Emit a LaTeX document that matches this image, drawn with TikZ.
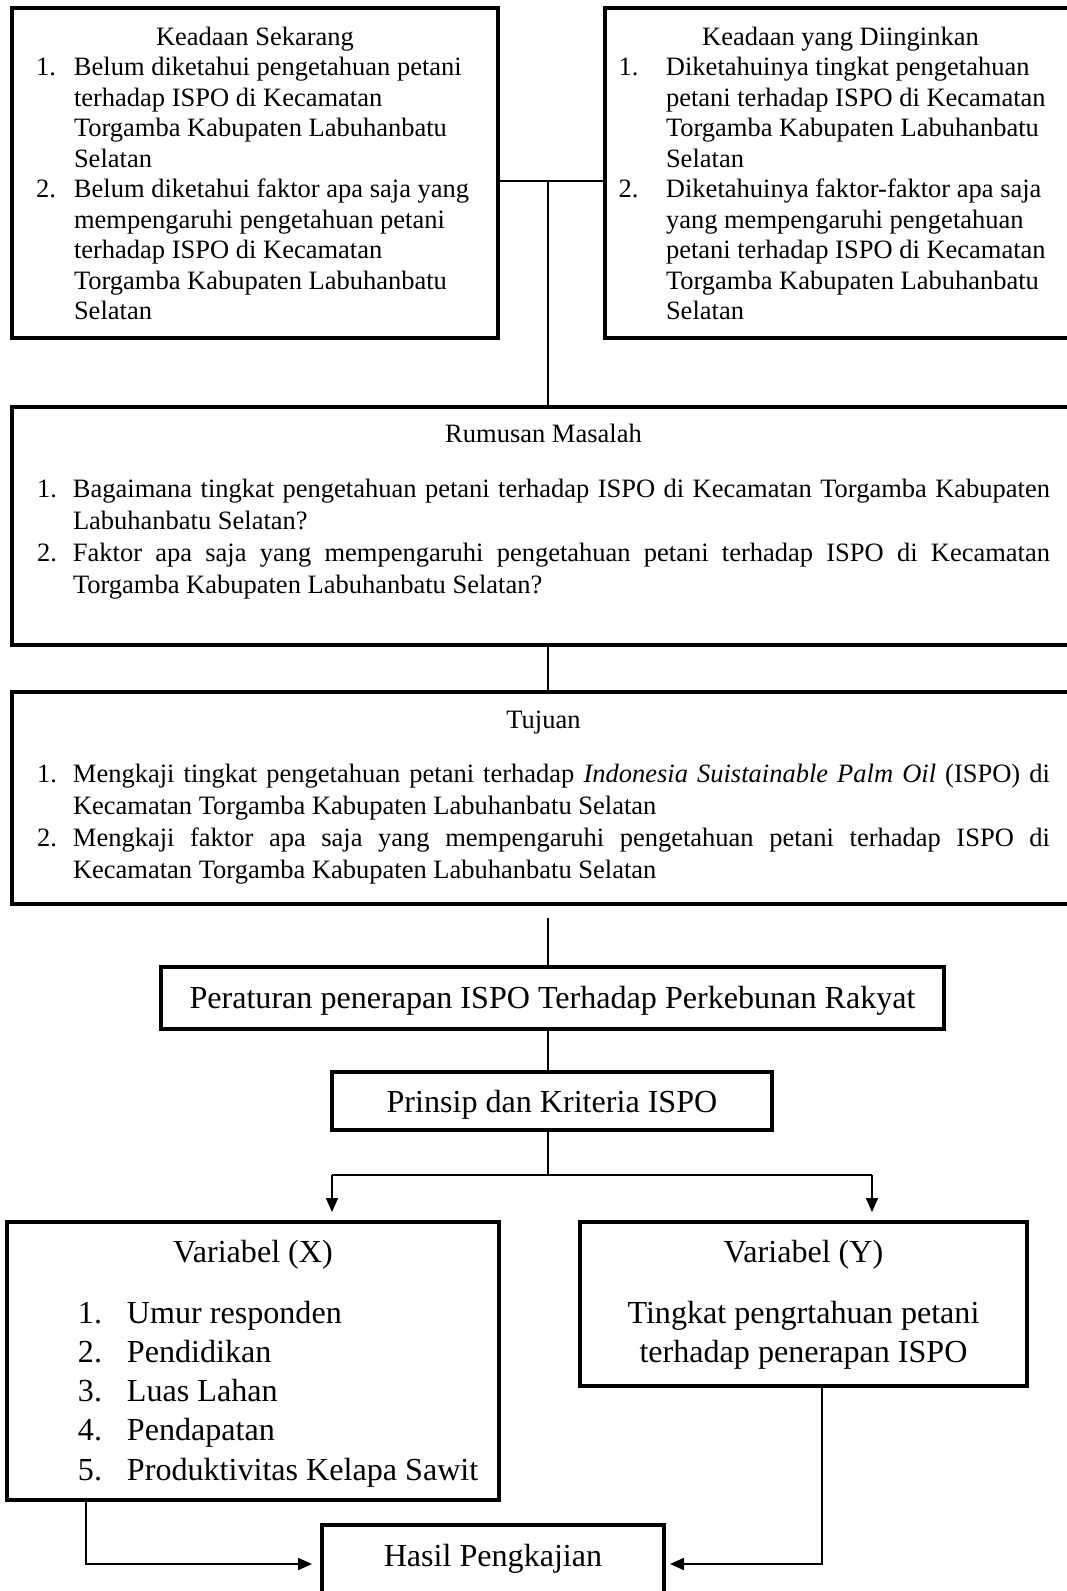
\documentclass[tikz,border=0pt]{standalone}
\usepackage{fontspec}
\setmainfont{Liberation Serif}
\usetikzlibrary{arrows.meta}
\newcommand{\butir}[3]{\makebox[#1][l]{#2}\mbox{#3}}
\newcommand{\baris}[2]{\hspace*{#1}\mbox{#2}}
\newcommand{\rata}[2]{\makebox[#1][s]{#2}}
\newcommand{\atas}[1]{\rule{0pt}{#1}}
\newcommand{\bawah}[1]{\rule[-#1]{0pt}{#1}}
\newcommand{\hurufa}{\fontsize{26.5}{30.55}\selectfont}
\newcommand{\hurufb}{\fontsize{26.5}{32.2}\selectfont}
\newcommand{\hurufc}{\fontsize{32.1}{39.25}\selectfont}
\begin{document}
\begin{tikzpicture}[x=1pt,y=-1pt]
            \tikzstyle{kotak}=[draw,line width=4pt,inner ysep=0pt,inner xsep=0pt,outer sep=0pt,anchor=north west,align=left,
              execute at begin node={\spaceskip=0pt\xspaceskip=0pt}]
            \tikzset{garis/.style = {line width=1.5pt}}
            \tikzset{panah/.style = {line width=1.5pt,-{Triangle[length=14pt,width=12pt]}}}
            \useasboundingbox (0,0) rectangle (1067,1591);
            \node[kotak,inner xsep=24pt,text width=438pt,font=\hurufa] (sekarang) at (12,8) {\atas{37pt}\makebox[\linewidth]{Keadaan Sekarang}\\
              \butir{38pt}{1.}{Belum diketahui pengetahuan petani}\\
              \baris{38pt}{terhadap ISPO di Kecamatan}\\
              \baris{38pt}{Torgamba Kabupaten Labuhanbatu}\\
              \baris{38pt}{Selatan}\\
              \butir{38pt}{2.}{Belum diketahui faktor apa saja yang}\\
              \baris{38pt}{mempengaruhi pengetahuan petani}\\
              \baris{38pt}{terhadap ISPO di Kecamatan}\\
              \baris{38pt}{Torgamba Kabupaten Labuhanbatu}\\
              \baris{38pt}{Selatan}\bawah{18pt}};
            \node[kotak,inner xsep=13.5pt,text width=444pt,font=\hurufa] (diinginkan) at (605,8) {\atas{37pt}\makebox[\linewidth]{Keadaan yang Diinginkan}\\
              \butir{47.5pt}{1.}{Diketahuinya tingkat pengetahuan}\\
              \baris{47.5pt}{petani terhadap ISPO di Kecamatan}\\
              \baris{47.5pt}{Torgamba Kabupaten Labuhanbatu}\\
              \baris{47.5pt}{Selatan}\\
              \butir{47.5pt}{2.}{Diketahuinya faktor-faktor apa saja}\\
              \baris{47.5pt}{yang mempengaruhi pengetahuan}\\
              \baris{47.5pt}{petani terhadap ISPO di Kecamatan}\\
              \baris{47.5pt}{Torgamba Kabupaten Labuhanbatu}\\
              \baris{47.5pt}{Selatan}\bawah{18pt}};
            \node[kotak,inner xsep=25pt,text width=1013pt,font=\hurufb] (rumusan) at (12,407) {\atas{35pt}\makebox[\linewidth]{Rumusan Masalah}\\[22.8pt]
              \butir{36pt}{1.}{\rata{977pt}{Bagaimana tingkat pengetahuan petani terhadap ISPO di Kecamatan Torgamba Kabupaten}}\\
              \baris{36pt}{Labuhanbatu Selatan?}\\
              \butir{36pt}{2.}{\rata{977pt}{Faktor apa saja yang mempengaruhi pengetahuan petani terhadap ISPO di Kecamatan}}\\
              \baris{36pt}{Torgamba Kabupaten Labuhanbatu Selatan?}\bawah{51.4pt}};
            \node[kotak,inner xsep=25pt,text width=1013pt,font=\hurufb] (tujuan) at (12,692) {\atas{36pt}\makebox[\linewidth]{Tujuan}\\[21.8pt]
              \butir{36pt}{1.}{\rata{977pt}{Mengkaji tingkat pengetahuan petani terhadap \textit{Indonesia Suistainable Palm Oil} (ISPO) di}}\\
              \baris{36pt}{Kecamatan Torgamba Kabupaten Labuhanbatu Selatan}\\
              \butir{36pt}{2.}{\rata{977pt}{Mengkaji faktor apa saja yang mempengaruhi pengetahuan petani terhadap ISPO di}}\\
              \baris{36pt}{Kecamatan Torgamba Kabupaten Labuhanbatu Selatan}\bawah{25.4pt}};
            \node[kotak,align=center,text width=783pt,font=\hurufc] (peraturan) at (161,967) {\atas{41pt}\mbox{Peraturan penerapan ISPO Terhadap Perkebunan Rakyat}\bawah{21pt}};
            \node[kotak,align=center,text width=440pt,font=\hurufc] (prinsip) at (332,1072) {\atas{40pt}\mbox{Prinsip dan Kriteria ISPO}\bawah{18pt}};
            \node[kotak,inner xsep=20pt,text width=452pt,font=\hurufc] (varx) at (7,1222) {\atas{40pt}\makebox[\linewidth]{Variabel (X)}\\[21.75pt]
              \hspace*{51pt}\butir{49pt}{1.}{Umur responden}\\
              \hspace*{51pt}\butir{49pt}{2.}{Pendidikan}\\
              \hspace*{51pt}\butir{49pt}{3.}{Luas Lahan}\\
              \hspace*{51pt}\butir{49pt}{4.}{Pendapatan}\\
              \hspace*{51pt}\butir{49pt}{5.}{Produktivitas Kelapa Sawit}\bawah{20pt}};
            \node[kotak,align=center,text width=447pt,font=\hurufc] (vary) at (580,1222) {\atas{40pt}\mbox{Variabel (Y)}\\[21.75pt]
              \mbox{Tingkat pengrtahuan petani}\\
              \mbox{terhadap penerapan ISPO}\bawah{24pt}};
            \node[kotak,align=center,text width=342pt,font=\hurufc] (hasil) at (322,1525) {\atas{41pt}\mbox{Hasil Pengkajian}\bawah{44pt}};
            \coordinate (pusat) at (548,181);
            \coordinate (cabang) at (548,1175);
            \coordinate (kiri) at (332,1175);
            \coordinate (kanan) at (872,1175);
            \coordinate (bawahx) at (86,1564);
            \coordinate (bawahy) at (822,1564);
            \draw[garis] (sekarang.east |- pusat) -- (diinginkan.west |- pusat);
            \draw[garis] (pusat) -- (pusat |- rumusan.north);
            \draw[garis] (pusat |- rumusan.south) -- (pusat |- tujuan.north);
            \draw[garis,shorten <=14pt] (pusat |- tujuan.south) -- (pusat |- peraturan.north);
            \draw[garis] (pusat |- peraturan.south) -- (pusat |- prinsip.north);
            \draw[garis] (pusat |- prinsip.south) -- (cabang);
            \draw[garis] (kiri) -- (kanan);
            \draw[panah,shorten >=10pt] (kiri) -- (kiri |- varx.north);
            \draw[panah,shorten >=10pt] (kanan) -- (kanan |- vary.north);
            \draw[panah,line width=2pt,shorten >=10pt] (bawahx |- varx.south) -- (bawahx) -- (hasil.west |- bawahx);
            \draw[panah,line width=2pt,shorten >=6pt] (bawahy |- vary.south) -- (bawahy) -- (hasil.east |- bawahy);
        \end{tikzpicture}
\end{document}
